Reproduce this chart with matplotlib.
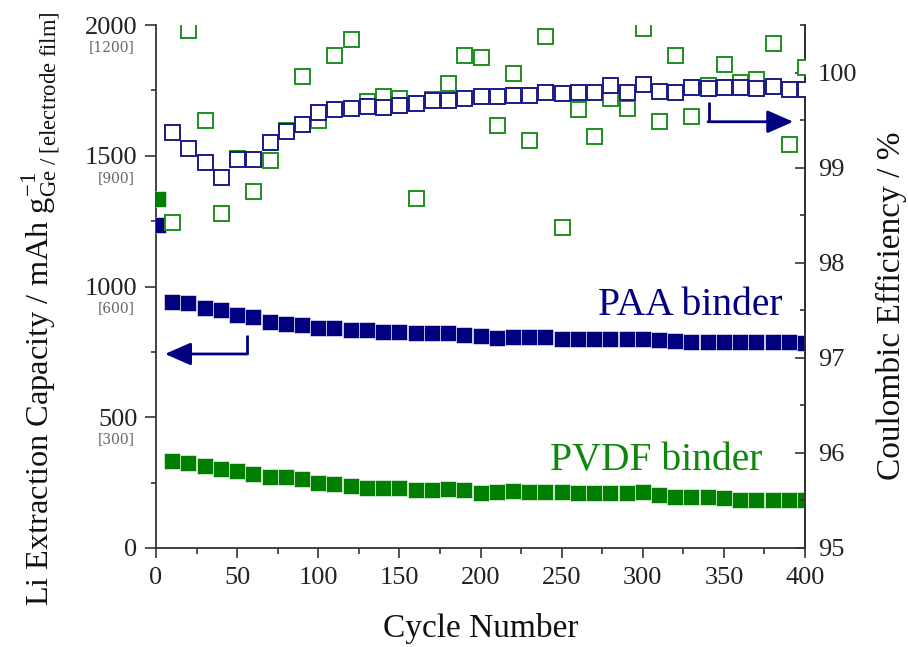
import matplotlib
matplotlib.use("Agg")
import matplotlib.pyplot as plt
from matplotlib.ticker import MultipleLocator

plt.rcParams['font.family'] = ['Liberation Serif', 'DejaVu Serif']
plt.rcParams['mathtext.fontset'] = 'custom'
plt.rcParams['mathtext.rm'] = 'Liberation Serif'
plt.rcParams['mathtext.it'] = 'Liberation Serif:italic'
plt.rcParams['mathtext.bf'] = 'Liberation Serif:bold'

# ---- data -------------------------------------------------------------
cap_cycles = [1, 10, 20, 30, 40, 50, 60, 70, 80, 90, 100, 110, 120, 130, 140,
              150, 160, 170, 180, 190, 200, 210, 220, 230, 240, 250, 260, 270,
              280, 290, 300, 310, 320, 330, 340, 350, 360, 370, 380, 390, 400]

paa_capacity = [1235, 942, 936, 917, 910, 891, 882, 865, 857, 853, 840, 840,
                834, 834, 827, 827, 821, 821, 821, 815, 810, 804, 806, 806,
                806, 800, 800, 800, 800, 800, 800, 795, 793, 789, 789, 789,
                789, 789, 789, 786, 783]

pvdf_capacity = [1335, 334, 324, 314, 301, 296, 283, 270, 273, 263, 250, 245,
                 237, 228, 228, 228, 222, 220, 224, 220, 212, 215, 219, 213,
                 213, 213, 209, 209, 209, 209, 213, 203, 196, 195, 195, 190,
                 184, 184, 184, 184, 184]

ce_cycles = [10, 20, 30, 40, 50, 60, 70, 80, 90, 100, 110, 120, 130, 140, 150,
             160, 170, 180, 190, 200, 210, 220, 230, 240, 250, 260, 270, 280,
             290, 300, 310, 320, 330, 340, 350, 360, 370, 380, 390, 400]

paa_ce = [99.37, 99.21, 99.06, 98.90, 99.09, 99.09, 99.27, 99.39, 99.46, 99.59,
          99.62, 99.63, 99.65, 99.64, 99.66, 99.68, 99.71, 99.71, 99.73, 99.75,
          99.75, 99.76, 99.76, 99.80, 99.78, 99.80, 99.80, 99.87, 99.80, 99.88,
          99.81, 99.80, 99.85, 99.84, 99.85, 99.85, 99.84, 99.86, 99.83, 99.83]

pvdf_ce = [98.43, 100.45, 99.50, 98.52, 99.10, 98.75, 99.08, 99.40, 99.96, 99.50,
           100.18, 100.35, 99.70, 99.75, 99.73, 98.68, 99.72, 99.89, 100.18, 100.16,
           99.45, 100.00, 99.29, 100.38, 98.38, 99.62, 99.33, 99.73, 99.63, 100.47,
           99.49, 100.18, 99.54, 99.87, 100.09, 99.90, 99.93, 100.31, 99.25, 100.06]

cap_ticks = [2000, 1500, 1000, 500]
film_labels = ['[1200]', '[900]', '[600]', '[300]']

# ---- style ------------------------------------------------------------
navy = '#000080'
green = '#007f00'
green_open = '#1f8f1f'
axis_col = '#333333'

fig = plt.figure(figsize=(9.08, 6.47), dpi=100)
ax = fig.add_axes([156 / 908, 1 - 548 / 647, (805 - 156) / 908, (548 - 25) / 647])
ax2 = ax.twinx()

# capacity (filled squares, left axis)
ax.plot(cap_cycles, paa_capacity, ls='none', marker='s', ms=11.6, mfc=navy,
        mec='white', mew=0.4, zorder=3)
ax.plot(cap_cycles, pvdf_capacity, ls='none', marker='s', ms=11.6, mfc=green,
        mec='white', mew=0.4, zorder=3)

# coulombic efficiency (open squares, right axis)
ax2.plot(ce_cycles, pvdf_ce, ls='none', marker='s', ms=10.8, mfc='white',
         mec=green_open, mew=1.4, zorder=3)
ax2.plot(ce_cycles, paa_ce, ls='none', marker='s', ms=10.8, mfc='white',
         mec='#1a1a8a', mew=1.4, zorder=4)

ax.set_xlim(0, 400)
ax.set_ylim(0, 2000)
ax2.set_ylim(95, 100.5)

ax.xaxis.set_major_locator(MultipleLocator(50))
ax.xaxis.set_minor_locator(MultipleLocator(25))
ax.yaxis.set_major_locator(MultipleLocator(500))
ax.yaxis.set_minor_locator(MultipleLocator(250))
ax2.yaxis.set_major_locator(MultipleLocator(1))
ax2.yaxis.set_minor_locator(MultipleLocator(0.5))

for a in (ax, ax2):
    a.spines['top'].set_visible(False)
    for s in a.spines.values():
        s.set_color(axis_col)
        s.set_linewidth(1.3)
ax2.spines['left'].set_visible(False)
ax2.spines['bottom'].set_visible(False)

ax.tick_params(axis='y', which='major', direction='out', length=8, width=1.2,
               pad=5.5, labelsize=19, color=axis_col, labelcolor='#222222')
ax.tick_params(axis='y', which='minor', direction='out', length=3.6, width=1.2,
               color=axis_col)
ax.tick_params(axis='x', which='major', direction='out', length=7, width=1.2,
               pad=6.5, labelsize=19, color=axis_col, labelcolor='#222222')
ax.tick_params(axis='x', which='minor', direction='out', length=4.5, width=1.2,
               color=axis_col)
ax2.tick_params(axis='y', which='major', direction='in', length=7, width=1.2,
                pad=9.4, labelsize=19, color=axis_col, labelcolor='#222222')
ax2.tick_params(axis='y', which='minor', direction='in', length=3.5, width=1.2,
                color=axis_col)

# per-film capacity scale under the main tick labels
for v, lbl in zip(cap_ticks, film_labels):
    ax.annotate(lbl, xy=(0, v), xycoords=ax.get_yaxis_transform(),
                xytext=(-21, -22), textcoords='offset pixels', ha='right',
                va='center', fontsize=10, color='#666666', family='DejaVu Serif')

ax.set_ylabel(r'Li Extraction Capacity / mAh g$_{\mathrm{Ge\ /\ [electrode\ film]}}^{-1}$',
              fontsize=23.3, color='#111111')
ax.yaxis.set_label_coords(-0.143, 0.457)
ax2.set_ylabel('Coulombic Efficiency / %', fontsize=24, color='#111111')
ax2.yaxis.set_label_coords(1.109, 0.463)
ax.set_xlabel('Cycle Number', fontsize=24, color='#111111')
ax.xaxis.set_label_coords(0.5, -0.125)

# series labels
ax.text(386, 891, 'PAA binder', color=navy, fontsize=28.5, ha='right', va='baseline')
ax.text(374, 298, 'PVDF binder', color='#0f870f', fontsize=28.5, ha='right', va='baseline')

# axis indicator arrows
arrow_kw = dict(arrowstyle='-|>,head_length=0.8,head_width=0.35', color=navy,
                lw=2, shrinkA=0, shrinkB=0, mutation_scale=20)
ax.plot([55.8, 55.8], [815, 742], color=navy, lw=2, solid_capstyle='butt', zorder=5)
ax.annotate('', xy=(5.5, 742), xytext=(56.4, 742), arrowprops=arrow_kw, zorder=5)
ax.plot([340.8, 340.8], [1707, 1630], color=navy, lw=2, solid_capstyle='butt', zorder=5)
ax.annotate('', xy=(392.8, 1630), xytext=(340.2, 1630), arrowprops=arrow_kw, zorder=5)

fig.savefig('out.png', dpi=100)
